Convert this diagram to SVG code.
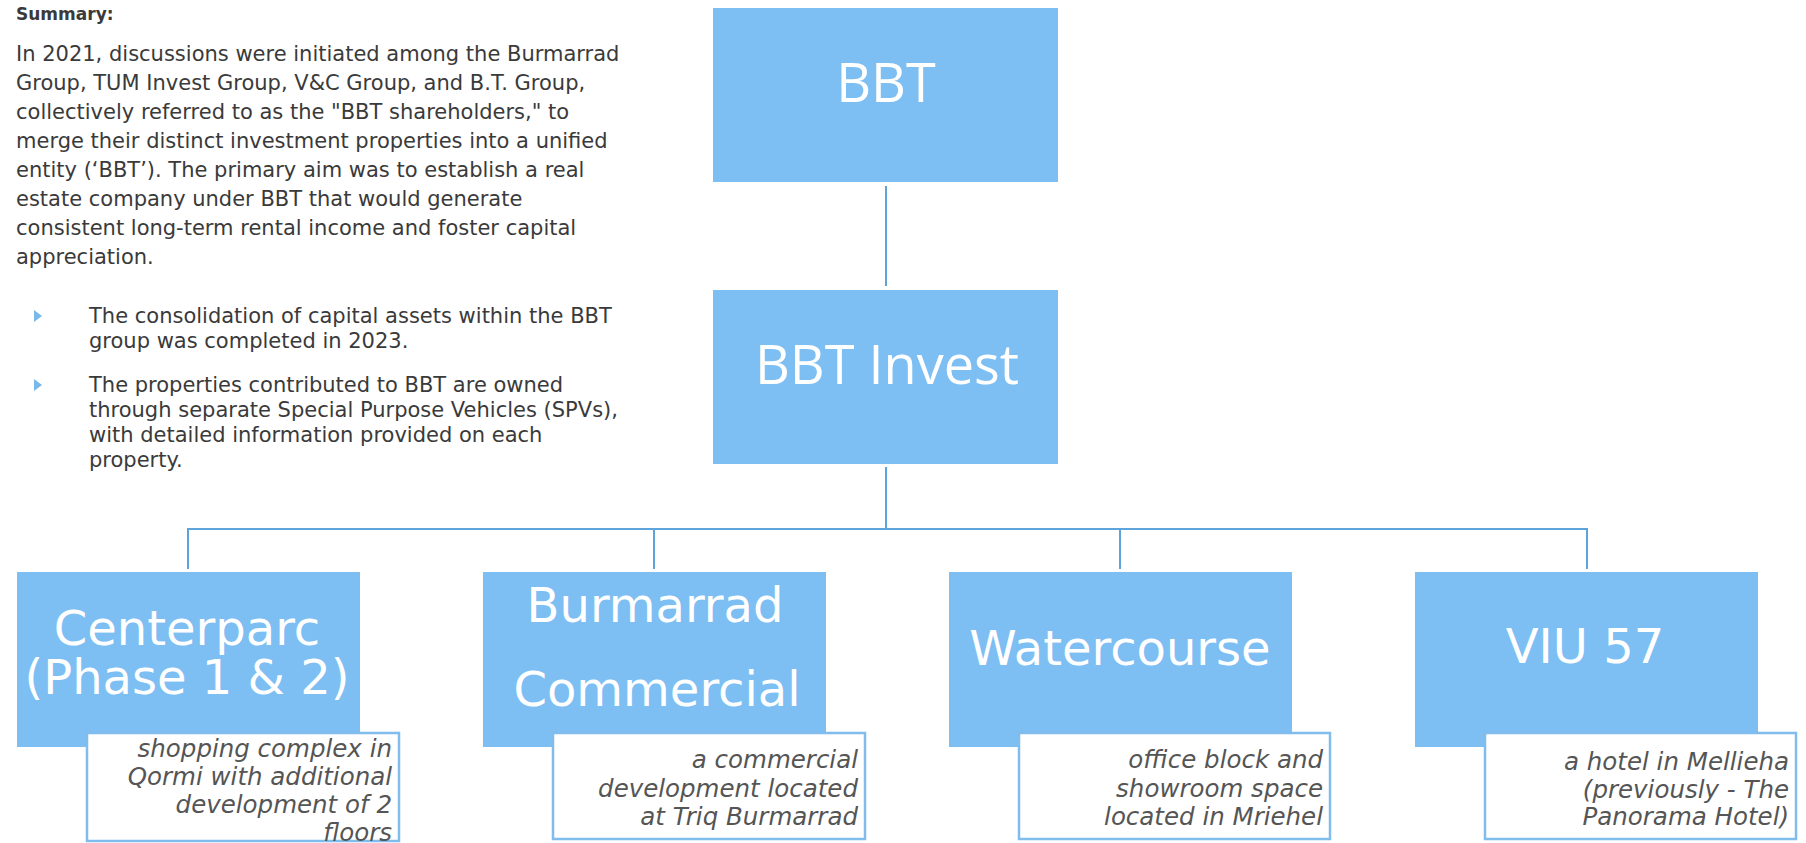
<svg xmlns="http://www.w3.org/2000/svg" width="1806" height="843" viewBox="0 0 1806 843">
  <style>
    .body { font-family: "DejaVu Sans", Verdana, sans-serif; font-size: 21px; fill: #3a3a3a; }
    .head { font-family: "DejaVu Sans", Verdana, sans-serif; font-size: 17px; font-weight: bold; fill: #3a3a3a; }
    .box { fill: #7dbef3; }
    .top { font-family: "Open Sans", "DejaVu Sans", sans-serif; font-size: 54px; fill: #ffffff; text-anchor: middle; }
    .title { font-family: "DejaVu Sans", Verdana, sans-serif; font-size: 48px; fill: #ffffff; text-anchor: middle; }
    .note { fill: #ffffff; stroke: #80bdec; stroke-width: 2.5; }
    .desc { font-family: "DejaVu Sans", Verdana, sans-serif; font-style: italic; font-size: 24.5px; fill: #555555; text-anchor: end; }
    .link { stroke: #5ea3da; stroke-width: 2; fill: none; }
    .bullet { fill: #7ab8e8; }
  </style>

  <rect width="1806" height="843" fill="#ffffff"/>

  <!-- summary text column -->
  <g id="summary">
    <text class="head" x="16" y="20">Summary:</text>
    <text class="body" x="16" y="61">In 2021, discussions were initiated among the Burmarrad</text>
    <text class="body" x="16" y="90">Group, TUM Invest Group, V&amp;C Group, and B.T. Group,</text>
    <text class="body" x="16" y="119">collectively referred to as the "BBT shareholders," to</text>
    <text class="body" x="16" y="148">merge their distinct investment properties into a unified</text>
    <text class="body" x="16" y="177">entity (‘BBT’). The primary aim was to establish a real</text>
    <text class="body" x="16" y="206">estate company under BBT that would generate</text>
    <text class="body" x="16" y="235">consistent long-term rental income and foster capital</text>
    <text class="body" x="16" y="264">appreciation.</text>

    <polygon class="bullet" points="34,310 42,316 34,322"/>
    <text class="body" x="89" y="323">The consolidation of capital assets within the BBT</text>
    <text class="body" x="89" y="348">group was completed in 2023.</text>

    <polygon class="bullet" points="34,379 42,385 34,391"/>
    <text class="body" x="89" y="392">The properties contributed to BBT are owned</text>
    <text class="body" x="89" y="417">through separate Special Purpose Vehicles (SPVs),</text>
    <text class="body" x="89" y="442">with detailed information provided on each</text>
    <text class="body" x="89" y="467">property.</text>
  </g>

  <!-- connectors -->
  <g id="connectors">
    <line class="link" x1="886" y1="186" x2="886" y2="286"/>
    <line class="link" x1="886" y1="467" x2="886" y2="529"/>
    <line class="link" x1="188" y1="529" x2="1587" y2="529"/>
    <line class="link" x1="188" y1="528" x2="188" y2="569"/>
    <line class="link" x1="654" y1="529" x2="654" y2="569"/>
    <line class="link" x1="1120" y1="529" x2="1120" y2="569"/>
    <line class="link" x1="1587" y1="528" x2="1587" y2="569"/>
  </g>

  <g id="bbt">
    <rect class="box" x="713" y="8" width="345" height="174"/>
    <text class="top" x="886" y="102">BBT</text>
  </g>

  <g id="bbt-invest">
    <rect class="box" x="713" y="290" width="345" height="174"/>
    <text class="top" x="887" y="384">BBT Invest</text>
  </g>

  <g id="centerparc">
    <rect class="box" x="17" y="572" width="343" height="175"/>
    <text class="title" x="187" y="645">Centerparc</text>
    <text class="title" x="187" y="694">(Phase 1 &amp; 2)</text>
    <rect class="note" x="87" y="733" width="312" height="108"/>
    <text class="desc" x="392" y="757">shopping complex in</text>
    <text class="desc" x="392" y="785">Qormi with additional</text>
    <text class="desc" x="392" y="813">development of 2</text>
    <text class="desc" x="392" y="841">floors</text>
  </g>

  <g id="burmarrad">
    <rect class="box" x="483" y="572" width="343" height="175"/>
    <text class="title" x="655" y="622">Burmarrad</text>
    <text class="title" x="657" y="706">Commercial</text>
    <rect class="note" x="553" y="733" width="312" height="106"/>
    <text class="desc" x="858" y="768">a commercial</text>
    <text class="desc" x="858" y="797">development located</text>
    <text class="desc" x="858" y="825">at Triq Burmarrad</text>
  </g>

  <g id="watercourse">
    <rect class="box" x="949" y="572" width="343" height="175"/>
    <text class="title" x="1120" y="665">Watercourse</text>
    <rect class="note" x="1019" y="733" width="311" height="106"/>
    <text class="desc" x="1323" y="768">office block and</text>
    <text class="desc" x="1323" y="797">showroom space</text>
    <text class="desc" x="1323" y="825">located in Mriehel</text>
  </g>

  <g id="viu57">
    <rect class="box" x="1415" y="572" width="343" height="175"/>
    <text class="title" x="1585" y="663">VIU 57</text>
    <rect class="note" x="1485" y="733" width="311" height="106"/>
    <text class="desc" x="1789" y="770">a hotel in Mellieha</text>
    <text class="desc" x="1789" y="798">(previously - The</text>
    <text class="desc" x="1789" y="825">Panorama Hotel)</text>
  </g>
</svg>
